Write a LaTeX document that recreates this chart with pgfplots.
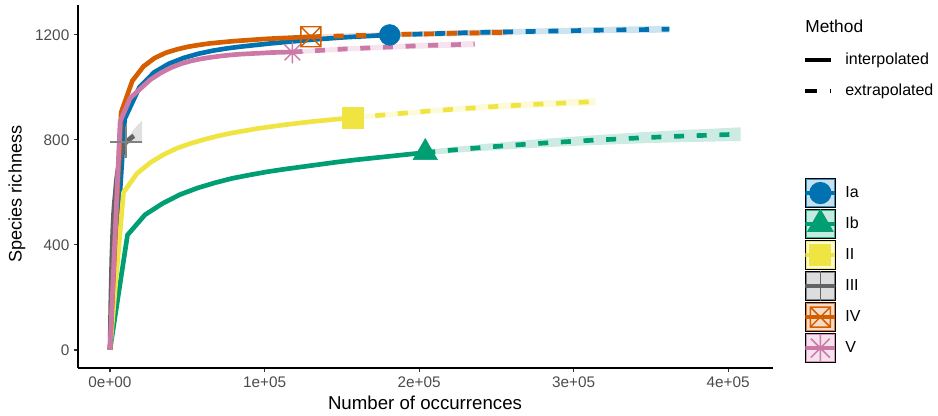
\documentclass[border=0pt]{standalone}
\usepackage{fontspec}
\setmainfont{Liberation Sans}
\usepackage{pgfplots}
\pgfplotsset{compat=1.18}
\usepackage{pgfplotstable}
\usepgfplotslibrary{fillbetween}

\definecolor{cIa}{HTML}{0072B2}
\definecolor{cIb}{HTML}{009E73}
\definecolor{cII}{HTML}{F0E442}
\definecolor{cIII}{HTML}{636363}
\definecolor{cIV}{HTML}{D55E00}
\definecolor{cV}{HTML}{CC79A7}

\pgfdeclareplotmark{boxx}{%
  \pgfpathrectangle{\pgfqpoint{-\pgfplotmarksize}{-\pgfplotmarksize}}{\pgfqpoint{2\pgfplotmarksize}{2\pgfplotmarksize}}%
  \pgfpathmoveto{\pgfqpoint{-\pgfplotmarksize}{-\pgfplotmarksize}}\pgfpathlineto{\pgfqpoint{\pgfplotmarksize}{\pgfplotmarksize}}%
  \pgfpathmoveto{\pgfqpoint{-\pgfplotmarksize}{\pgfplotmarksize}}\pgfpathlineto{\pgfqpoint{\pgfplotmarksize}{-\pgfplotmarksize}}%
  \pgfusepathqstroke}
\pgfdeclareplotmark{star8}{%
  \pgfpathmoveto{\pgfqpoint{-\pgfplotmarksize}{0pt}}\pgfpathlineto{\pgfqpoint{\pgfplotmarksize}{0pt}}%
  \pgfpathmoveto{\pgfqpoint{0pt}{-\pgfplotmarksize}}\pgfpathlineto{\pgfqpoint{0pt}{\pgfplotmarksize}}%
  \pgfpathmoveto{\pgfqpoint{-.7071\pgfplotmarksize}{-.7071\pgfplotmarksize}}\pgfpathlineto{\pgfqpoint{.7071\pgfplotmarksize}{.7071\pgfplotmarksize}}%
  \pgfpathmoveto{\pgfqpoint{-.7071\pgfplotmarksize}{.7071\pgfplotmarksize}}\pgfpathlineto{\pgfqpoint{.7071\pgfplotmarksize}{-.7071\pgfplotmarksize}}%
  \pgfusepathqstroke}

\pgfplotsset{
  serieskey/.style n args={3}{legend image code/.code={%
    \path[fill=#1!22, draw=none] (0pt,-10.9pt) rectangle (22.5pt,10.9pt);
    \path[draw=#1!80, fill=none, line width=0.9pt] (0.45pt,-10.45pt) rectangle (22.05pt,10.45pt);
    \begin{pgfinterruptboundingbox}
    \begin{scope}
      \clip (0pt,-10.9pt) rectangle (22.5pt,10.9pt);
      \path[draw=#1, fill=none, line width=3pt] (0pt,0pt) -- (22.5pt,0pt);
      \pgfsetstrokecolor{#1}\pgfsetfillcolor{#1}\pgfsetlinewidth{1.1pt}%
      \pgfplotmarksize=#3\relax
      \pgftransformshift{\pgfqpoint{11.25pt}{0pt}}%
      \pgfuseplotmark{#2}%
    \end{scope}
    \end{pgfinterruptboundingbox}
  }},
  solidline/.style={line width=3.5pt, line join=round},
  dashline/.style={line width=3.5pt, dash pattern=on 7.5pt off 9.5pt},
}

% ---------- interpolated (m, S) ----------
\pgfplotstableread{
m S
1 1
9500 880
19000 1000
28500 1057
38000 1090
47500 1112
57000 1128
66500 1140
76000 1149
85500 1156
95000 1162
104500 1168
114000 1173
123500 1178
133000 1183
142500 1187
152000 1191
161500 1194
171000 1197
181000 1200
}\IaI
\pgfplotstableread{
m S
1 1
11333 438
22667 515
34000 558
45333 592
56667 617
68000 637
79333 654
90667 667
102000 679
113333 689
124667 698
136000 707
147333 716
158667 724
170000 731
181333 738
192667 745
204000 752
}\IbI
\pgfplotstableread{
m S
1 1
8722 600
17444 672
26167 714
34889 745
43611 769
52333 787
61056 802
69778 815
78500 826
87222 835
95944 844
104667 851
113389 858
122111 864
130833 870
139556 875
148278 880
157000 885
}\IIinterp
\pgfplotstableread{
m S
1 1
580 200
1160 350
1740 450
2310 520
2890 565
3470 600
4040 640
4620 668
5200 690
5780 708
6360 724
6930 738
7510 750
8090 761
8670 771
9240 779
9820 786
10400 792
}\IIIinterp
\pgfplotstableread{
m S
1 1
7222 905
14444 1025
21667 1080
28889 1112
36111 1132
43333 1145
50556 1155
57778 1162
65000 1168
72222 1172
79444 1176
86667 1179
93889 1182
101111 1185
108333 1187
115556 1189
122778 1191
130000 1193
}\IVinterp
\pgfplotstableread{
m S
1 1
6556 870
13111 960
19667 995
26222 1030
32778 1055
39333 1075
45889 1090
52444 1101
59000 1109
65556 1115
72111 1120
78667 1124
85222 1127
91778 1129
98333 1131
104889 1133
111444 1134
118000 1135
}\Vinterp

% ---------- extrapolated (m, S, lo, hi) ----------
\pgfplotstableread{
m S lo hi
181000 1200 1191 1209
199000 1203 1193.6 1212.4
217000 1206 1196.2 1215.8
235000 1209 1198.8 1219.2
253000 1211 1200.4 1221.6
271000 1213 1202 1224
289000 1215 1203.6 1226.4
307000 1217 1205.2 1228.8
325000 1219 1206.8 1231.2
343000 1220 1207.4 1232.6
362000 1222 1209 1235
}\IaE
\pgfplotstableread{
m S lo hi
204000 752 742 762
224400 763 751.4 774.6
244800 773 759.8 786.2
265200 782 767.2 796.8
285600 790 773.6 806.4
306000 797 779 815
326400 803 783.4 822.6
346800 809 787.8 830.2
367200 814 791.2 836.8
387600 818 793.6 842.4
408000 822 796 848
}\IbE
\pgfplotstableread{
m S lo hi
157000 885 876 894
172700 893 883.5 902.5
188400 901 891 911
204100 909 898.5 919.5
219800 916 905 927
235500 922 910.5 933.5
251200 928 916 940
266900 933 920.5 945.5
282600 938 925 951
298300 942 928.5 955.5
314000 946 932 960
}\IIE
\pgfplotstableread{
m S lo hi
10400 792 782 802
11440 797 784 810
12480 802 786 818
13520 807 788 826
14560 812 790 834
15600 816 791 841
16640 820 792 848
17680 824 793 855
18720 827 793 861
19760 830 793 867
20800 833 793 873
}\IIIE
\pgfplotstableread{
m S lo hi
130000 1193 1184 1202
143000 1195 1185.7 1204.3
156000 1197 1187.4 1206.6
169000 1199 1189.1 1208.9
182000 1201 1190.8 1211.2
195000 1203 1192.5 1213.5
208000 1204 1193.2 1214.8
221000 1206 1194.9 1217.1
234000 1207 1195.6 1218.4
247000 1209 1197.3 1220.7
260000 1210 1198 1222
}\IVE
\pgfplotstableread{
m S lo hi
118000 1135 1126 1144
129800 1139 1129.7 1148.3
141600 1143 1133.4 1152.6
153400 1147 1137.1 1156.9
165200 1150 1139.8 1160.2
177000 1153 1142.5 1163.5
188800 1156 1145.2 1166.8
200600 1159 1147.9 1170.1
212400 1161 1149.6 1172.4
224200 1163 1151.3 1174.7
236000 1165 1153 1177
}\VE

\begin{document}
\begin{tikzpicture}[x=0.75pt,y=0.75pt]
\begin{axis}[
  name=ax,
  scale only axis, width=521.25pt, height=272.25pt,
  xmin=-20700, xmax=429000, ymin=-68.6, ymax=1314,
  axis x line*=bottom, axis y line*=left,
  axis line style={-, black, line width=0.9pt},
  tick align=outside, major tick length=3pt,
  tick style={black!80, line width=0.8pt},
  xtick={0,100000,200000,300000,400000},
  xticklabels={0e+00,1e+05,2e+05,3e+05,4e+05},
  scaled x ticks=false,
  ytick={0,400,800,1200}, yticklabels={0,400,800,1200},
  xticklabel style={font=\fontsize{11.5}{13}\selectfont, text=black!70},
  yticklabel style={font=\fontsize{11.5}{13}\selectfont, text=black!70},
  xlabel={Number of occurrences}, ylabel={Species richness},
  every axis x label/.style={at={(axis description cs:0.4993,-0.0964)}, anchor=center,
    font=\fontsize{14}{16}\selectfont},
  every axis y label/.style={at={(axis description cs:-0.0878,0.479)}, rotate=90, anchor=center,
    font=\fontsize{13.6}{16}\selectfont},
  legend cell align=left,
  legend style={at={(axis description cs:1.04317,0.98493)}, anchor=north west,
    draw=none, fill=none, inner sep=0pt, outer sep=0pt,
    row sep=1.45pt, column sep=7.5pt,
    nodes={inner sep=0pt, font=\fontsize{12}{14}\selectfont}},
]
\coordinate (SW) at (rel axis cs:0,0);
% ribbons
\addplot[name path=IaHi, draw=none, forget plot] table[x=m,y=hi]{\IaE};
\addplot[name path=IaLo, draw=none, forget plot] table[x=m,y=lo]{\IaE};
\addplot[fill=cIa, fill opacity=0.2, draw=none, forget plot] fill between[of=IaHi and IaLo];
\addplot[name path=IbHi, draw=none, forget plot] table[x=m,y=hi]{\IbE};
\addplot[name path=IbLo, draw=none, forget plot] table[x=m,y=lo]{\IbE};
\addplot[fill=cIb, fill opacity=0.2, draw=none, forget plot] fill between[of=IbHi and IbLo];
\addplot[name path=IIHi, draw=none, forget plot] table[x=m,y=hi]{\IIE};
\addplot[name path=IILo, draw=none, forget plot] table[x=m,y=lo]{\IIE};
\addplot[fill=cII, fill opacity=0.2, draw=none, forget plot] fill between[of=IIHi and IILo];
\addplot[name path=IIIHi, draw=none, forget plot] table[x=m,y=hi]{\IIIE};
\addplot[name path=IIILo, draw=none, forget plot] table[x=m,y=lo]{\IIIE};
\addplot[fill=cIII, fill opacity=0.2, draw=none, forget plot] fill between[of=IIIHi and IIILo];
\addplot[name path=IVHi, draw=none, forget plot] table[x=m,y=hi]{\IVE};
\addplot[name path=IVLo, draw=none, forget plot] table[x=m,y=lo]{\IVE};
\addplot[fill=cIV, fill opacity=0.2, draw=none, forget plot] fill between[of=IVHi and IVLo];
\addplot[name path=VHi, draw=none, forget plot] table[x=m,y=hi]{\VE};
\addplot[name path=VLo, draw=none, forget plot] table[x=m,y=lo]{\VE};
\addplot[fill=cV, fill opacity=0.2, draw=none, forget plot] fill between[of=VHi and VLo];
% lines
\addplot[cIa, solidline, forget plot] table[x=m,y=S]{\IaI};
\addplot[cIa, dashline, forget plot] table[x=m,y=S]{\IaE};
\addplot[cIb, solidline, forget plot] table[x=m,y=S]{\IbI};
\addplot[cIb, dashline, forget plot] table[x=m,y=S]{\IbE};
\addplot[cII, solidline, forget plot] table[x=m,y=S]{\IIinterp};
\addplot[cII, dashline, forget plot] table[x=m,y=S]{\IIE};
\addplot[cIII, solidline, forget plot] table[x=m,y=S]{\IIIinterp};
\addplot[cIII, dashline, forget plot] table[x=m,y=S]{\IIIE};
\addplot[cIV, solidline, forget plot] table[x=m,y=S]{\IVinterp};
\addplot[cIV, dashline, forget plot] table[x=m,y=S]{\IVE};
\addplot[cV, solidline, forget plot] table[x=m,y=S]{\Vinterp};
\addplot[cV, dashline, forget plot] table[x=m,y=S]{\VE};
% observed points
\addplot[only marks, mark=*, mark size=7.8pt, cIa, forget plot] coordinates {(181000,1200)};
\addplot[only marks, mark=triangle*, mark size=10.5pt, cIb, forget plot] coordinates {(204000,752)};
\addplot[only marks, mark=square*, mark size=7.8pt, cII, forget plot] coordinates {(157000,885)};
\addplot[only marks, mark=+, mark size=12pt, cIII!80, line width=1.1pt, forget plot] coordinates {(10400,792)};
\addplot[only marks, mark=boxx, mark size=7.5pt, cIV, line width=1.1pt, forget plot] coordinates {(130000,1193)};
\addplot[only marks, mark=star8, mark size=8.2pt, cV, line width=1.1pt, forget plot] coordinates {(118000,1133)};
% legend
\addlegendimage{legend image code/.code={\path[draw=none, fill=none] (0pt,-12.4pt) rectangle (22.5pt,12.4pt);}}
\addlegendentry[font=\fontsize{13}{15}\selectfont]{\hspace*{-30pt}Method}
\addlegendimage{legend image code/.code={\path[draw=none, fill=none] (0pt,-10.9pt) rectangle (22.5pt,10.9pt); \path[draw=black, line width=3.5pt] (0pt,0pt) -- (19.5pt,0pt);}}
\addlegendentry{interpolated}
\addlegendimage{legend image code/.code={\path[draw=none, fill=none] (0pt,-10.9pt) rectangle (22.5pt,10.9pt); \path[draw=black, line width=3.5pt, dash pattern=on 9pt off 9.75pt] (0pt,0pt) -- (19.5pt,0pt);}}
\addlegendentry{extrapolated}
\addlegendimage{legend image code/.code={\path[draw=none, fill=none] (0pt,-12.6pt) rectangle (22.5pt,12.6pt);}}
\addlegendentry{}
\addlegendimage{legend image code/.code={\path[draw=none, fill=none] (0pt,-12.6pt) rectangle (22.5pt,12.6pt);}}
\addlegendentry{}
\addlegendimage{serieskey={cIa}{*}{7.8pt}}
\addlegendentry{Ia}
\addlegendimage{serieskey={cIb}{triangle*}{10.5pt}}
\addlegendentry{Ib}
\addlegendimage{serieskey={cII}{square*}{7.8pt}}
\addlegendentry{II}
\addlegendimage{serieskey={cIII}{+}{12pt}}
\addlegendentry{III}
\addlegendimage{serieskey={cIV}{boxx}{7.5pt}}
\addlegendentry{IV}
\addlegendimage{serieskey={cV}{star8}{10pt}}
\addlegendentry{V}
\end{axis}
\pgfresetboundingbox
\path[use as bounding box] (SW) ++(-78,-48) rectangle ++(938,416);
\end{tikzpicture}
\end{document}
